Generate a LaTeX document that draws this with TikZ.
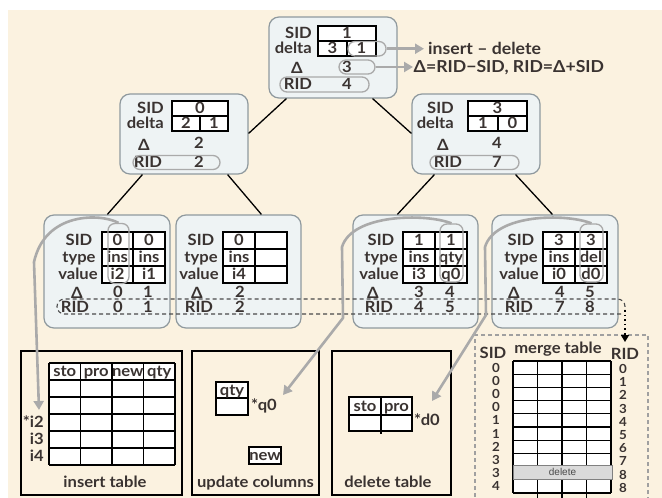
\documentclass[tikz,border=0pt]{standalone}
\usepackage{fontspec}
\setmainfont{Lato}[FakeStretch=1.07]
\newfontfamily\helv{Liberation Sans}
\usetikzlibrary{arrows.meta,calc}
\definecolor{cream}{HTML}{FBF2E0}
\definecolor{boxfill}{HTML}{EEF3F4}
\definecolor{boxedge}{HTML}{8F999E}
\definecolor{ink}{HTML}{3A3331}
\definecolor{arr}{HTML}{AAAAAA}
\definecolor{delbar}{HTML}{DADADA}
\definecolor{mgrey}{HTML}{A0A0A0}
\definecolor{dgrey}{HTML}{4A4A4A}
\newcount\tcnt
\newcommand\txt[3][]{\global\advance\tcnt by 1\relax\node[lbl,#1] (t\the\tcnt) at (#2) {#3};}
\begin{document}
\begin{tikzpicture}[x=1pt,y=-1pt,
  tnode/.style={draw=boxedge, fill=boxfill, line width=1.2pt, rounded corners=10pt, inner sep=0pt, minimum width=128pt, minimum height=80pt},
  leafbox/.style={draw=boxedge, fill=boxfill, line width=1.2pt, rounded corners=10pt, inner sep=0pt, minimum height=113pt},
  lbl/.style={font=\fontsize{15.5}{18}\selectfont\bfseries, text=ink, inner sep=0pt, text height=10.8pt, text depth=0pt},
  big/.style={font=\fontsize{16.5}{19}\selectfont\bfseries, text height=11.6pt},
  num/.style={lbl, font=\fontsize{12.5}{14}\selectfont\bfseries, text height=8.9pt},
  cell/.style={draw=black, fill=white, line width=1.1pt},
  pill/.style={draw=arr, line width=1.3pt, rounded corners=7pt, inner sep=0pt},
  garrow/.style={draw=arr, line width=2.6pt, line join=round, -{Triangle[length=9pt,width=10pt]}},
  edge/.style={draw=black, line width=1.3pt},
  dashline/.style={draw=dgrey, line width=1.1pt, dash pattern=on 4pt off 3pt},
  dotarrow/.style={draw=black, line width=1.6pt, dash pattern=on 1.6pt off 3pt, -{Triangle[length=7pt,width=8pt]}},
  bbox/.style={draw=black, line width=1.5pt, inner sep=0pt, minimum height=144pt}
]
\useasboundingbox (0,0) rectangle (662,498);
\fill[cream] (8,10) rectangle (662,498);

% ---------- tree boxes ----------
\node[tnode, minimum height=81pt] (root) at (333,57.5) {};
\node[tnode] (L) at (184,134) {};
\node[tnode] (R) at (476,134) {};
\node[leafbox, minimum width=126pt] (A) at (107,271.5) {};
\node[leafbox, minimum width=125pt] (B) at (238.5,271.5) {};
\node[leafbox, minimum width=125pt] (C) at (415.5,271.5) {};
\node[leafbox, minimum width=126pt] (D) at (555,271.5) {};

% ---------- tree edges ----------
\draw[edge] ([xshift=18pt]root.south west) -- ([yshift=-40pt]L.north east);
\draw[edge] ([xshift=-25pt]root.south east) -- ([yshift=-40pt]R.north west);
\draw[edge] ([xshift=23pt]L.south west) -- ([xshift=64pt]A.north west);
\draw[edge] ([xshift=-21pt]L.south east) -- ([xshift=86pt]B.north west);
\draw[edge] ([xshift=23pt]R.south west) -- ([xshift=45pt]C.north west);
\draw[edge] ([xshift=-25pt]R.south east) -- ([xshift=61pt]D.north west);

% ---------- root contents ----------
\draw[cell] (318,26) rectangle (376,41);
\draw[cell] (318,41) rectangle (347,56);
\draw[cell] (347,41) rectangle (376,56);
\txt[anchor=east]{312,33.5}{SID}
\txt[anchor=east]{312,48.5}{delta}
\txt{347,33.5}{1}
\txt{332.5,48.5}{3}
\txt{361.5,48.5}{1}
\txt{297,68}{Δ}
\txt{347,67}{3}
\txt{298,84.5}{RID}
\txt{347,84.5}{4}
\node[pill, minimum width=38pt, minimum height=14.5pt] (pd) at (367,48.75) {};
\node[pill, minimum width=36pt, minimum height=14pt] (pD) at (357,67) {};
\node[pill, minimum width=89pt, minimum height=15pt] (pR) at (324.5,84.5) {};
\coordinate (ta) at (424,48.75);
\coordinate (tb) at (413,67);
\draw[garrow] (pd.east) -- (ta);
\draw[garrow] (pD.east) -- (tb);
\txt[big, anchor=west]{428,48.75}{insert – delete}
\txt[big, anchor=west]{413.5,67}{Δ=RID−SID, RID=Δ+SID}

% ---------- L contents ----------
\draw[cell] (172,101) rectangle (228,116);
\draw[cell] (172,116) rectangle (200,131);
\draw[cell] (200,116) rectangle (228,131);
\txt[anchor=east]{164,108.5}{SID}
\txt[anchor=east]{164,123.5}{delta}
\txt{200,108.5}{0}
\txt{186,123.5}{2}
\txt{214,123.5}{1}
\txt{144,145}{Δ}
\txt{199,143}{2}
\txt{148,162.5}{RID}
\txt{199,162.5}{2}
\node[pill, minimum width=87pt, minimum height=14pt] (pL) at (176.5,162.5) {};

% ---------- R contents ----------
\draw[cell] (468,101) rectangle (527,116);
\draw[cell] (468,116) rectangle (498,131);
\draw[cell] (498,116) rectangle (527,131);
\txt[anchor=east]{454,108.5}{SID}
\txt[anchor=east]{454,123.5}{delta}
\txt{497.5,108.5}{3}
\txt{483,123.5}{1}
\txt{512.5,123.5}{0}
\txt{443,145}{Δ}
\txt{497,143}{4}
\txt{448,162.5}{RID}
\txt{497,162.5}{7}
\node[pill, minimum width=89pt, minimum height=14pt] (pRR) at (474.5,162.5) {};

% ---------- leaves ----------
% leaf A
\foreach \y in {232,249,266}{\draw[cell] (102,\y) rectangle (133,\y+17); \draw[cell] (133,\y) rectangle (165,\y+17);}
\txt{79,240.5}{SID}\txt{79,257.5}{type}\txt{78,274.5}{value}
\txt{117.5,240.5}{0}\txt{149,240.5}{0}
\txt{117.5,257.5}{ins}\txt{149,257.5}{ins}
\txt{117.5,274.5}{i2}\txt{149,274.5}{i1}
\txt{77,293}{Δ}\txt{118,292}{0}\txt{148,292}{1}
\txt{75,307.5}{RID}\txt{118,307.5}{0}\txt{148,307.5}{1}
\node[pill, minimum width=21pt, minimum height=60pt] (pA) at (118.5,253.5) {};
% leaf B
\foreach \y in {232,249,266}{\draw[cell] (223,\y) rectangle (255,\y+17); \draw[cell] (255,\y) rectangle (287,\y+17);}
\txt{201,240.5}{SID}\txt{201,257.5}{type}\txt{199,274.5}{value}
\txt{239,240.5}{0}\txt{239,257.5}{ins}\txt{239,274.5}{i4}
\txt{197,293}{Δ}\txt{240,292}{2}
\txt{199,307.5}{RID}\txt{240,307.5}{2}
% leaf C
\foreach \y in {232,249,266}{\draw[cell] (403,\y) rectangle (435,\y+17); \draw[cell] (435,\y) rectangle (467,\y+17);}
\txt{381,240.5}{SID}\txt{381,257.5}{type}\txt{379,274.5}{value}
\txt{419,240.5}{1}\txt{451,240.5}{1}
\txt{419,257.5}{ins}\txt{451,257.5}{qty}
\txt{419,274.5}{i3}\txt{451,274.5}{q0}
\txt{373,293}{Δ}\txt{419,292}{3}\txt{450,292}{4}
\txt{379,307.5}{RID}\txt{419,307.5}{4}\txt{450,307.5}{5}
\node[pill, minimum width=23pt, minimum height=58pt] (pC) at (451.5,253) {};
% leaf D
\foreach \y in {232,249,266}{\draw[cell] (543,\y) rectangle (575,\y+17); \draw[cell] (575,\y) rectangle (607,\y+17);}
\txt{521,240.5}{SID}\txt{521,257.5}{type}\txt{519,274.5}{value}
\txt{559,240.5}{3}\txt{591,240.5}{3}
\txt{559,257.5}{ins}\txt{591,257.5}{del}
\txt{559,274.5}{i0}\txt{591,274.5}{d0}
\txt{514,293}{Δ}\txt{560,292}{4}\txt{590,292}{5}
\txt{519,307.5}{RID}\txt{560,307.5}{7}\txt{590,307.5}{8}
\node[pill, minimum width=23pt, minimum height=58pt] (pDD) at (591.5,253) {};

% ---------- bottom boxes ----------
\node[bbox, minimum width=161pt] (ib) at (101.5,423) {};
\node[bbox, minimum width=127pt] (ub) at (255.5,423) {};
\node[bbox, minimum width=119pt] (db) at (391.5,423) {};

% insert table
\fill[white] (49,363) rectangle (175,465);
\foreach \y in {363,380,397,414,431,448,465}{\draw[line width=1.1pt] (49,\y) -- (175,\y);}
\foreach \x in {49,80.5,112,143.5,175}{\draw[line width=1.1pt] (\x,363) -- (\x,465);}
\txt{64.75,371.5}{sto}\txt{96.25,371.5}{pro}\txt{127.75,371.5}{new}\txt{159.25,371.5}{qty}
\txt[anchor=east]{44,422.5}{*i2}\txt[anchor=east]{44,439.5}{i3}\txt[anchor=east]{44,456.5}{i4}
\txt{105,482}{insert table}

% update columns
\draw[cell] (216,382) rectangle (248,398);
\draw[cell] (216,398) rectangle (248,415);
\txt{232,390}{qty}
\txt[anchor=west]{251,405}{*q0}
\draw[cell] (249,447) rectangle (281,464);
\txt{265,455.5}{new}
\txt{255.5,482}{update columns}

% delete table
\draw[cell] (349,397) rectangle (381,415);
\draw[cell] (381,397) rectangle (412,415);
\draw[cell] (349,415) rectangle (381,431);
\draw[cell] (381,415) rectangle (412,431);
\draw[line width=1.1pt] (381,431) -- (381,434);
\txt{365,406}{sto}\txt{396.5,406}{pro}
\txt[anchor=west]{414,420}{*d0}
\txt{388,482}{delete table}

% ---------- merge table ----------
\node[draw=mgrey, line width=1.2pt, dash pattern=on 4pt off 3pt, inner sep=0pt, minimum width=173pt, minimum height=175pt] (mb) at (561.5,422.5) {};
\txt{493,353}{SID}
\txt{558,348}{merge table}
\txt{625,354}{RID}
\fill[white] (513,361) rectangle (611,493);
\foreach \i in {0,...,10}{\draw[line width=1.1pt] (513,361+13.2*\i) -- (611,361+13.2*\i);}
\foreach \x in {513,611}{\draw[line width=1.1pt] (\x,361) -- (\x,493);}
\foreach \x in {537.5,562,586.5}{\draw[line width=1.1pt] (\x,361) -- (\x,499);}
\node[draw=gray, fill=delbar, line width=0.6pt, inner sep=0pt, minimum width=99pt, minimum height=14pt, font=\helv\fontsize{10}{12}\selectfont, text=dgrey] (del) at (562.5,472) {delete};
\foreach \v [count=\i from 0] in {0,0,0,0,1,1,2,3,3,4}{\node[num] (ms\i) at (496,367.6+13.2*\i) {\v};}
\foreach \v [count=\i from 0] in {0,1,2,3,4,5,6,7,8,8}{\node[num] (mr\i) at (623,369+13.2*\i) {\v};}

% ---------- dashed RID band and dotted arrow ----------
\draw[dashline, rounded corners=7.5pt] (621,314) -- (57,314) -- (57,299) -- (625,299) -- (625,310);
\coordinate (dq) at (625,310);
\coordinate (mt) at (625,342);
\draw[dotarrow] (dq) -- (mt);

% ---------- grey arrows from leaves ----------
\coordinate (ia) at (39,410);
\coordinate (uc) at (283,395);
\coordinate (dc) at (432,401);
\draw[garrow] (pA.north) .. controls (100,213) and (45,212) .. (34,262) -- (ia);
\draw[garrow] (pC.north) .. controls (425,213) and (352,214) .. (342,247) -- (343,318) -- (uc);
\draw[garrow] (pDD.north) .. controls (565,213) and (495,214) .. (485,247) -- (486,315) -- (dc);
\end{tikzpicture}
\end{document}
